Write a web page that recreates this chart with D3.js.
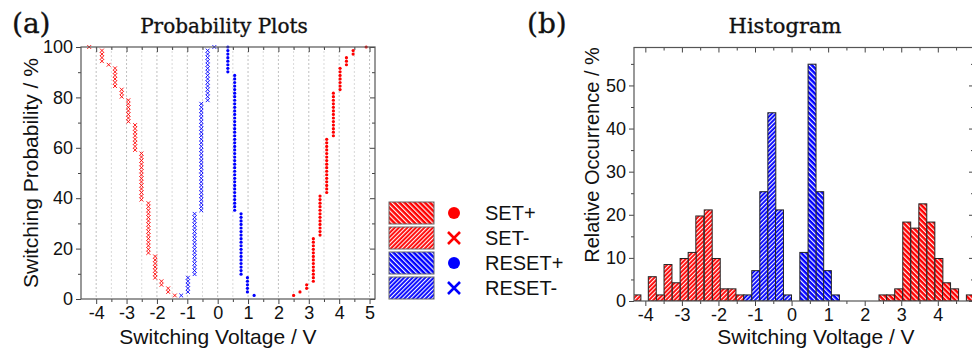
<!DOCTYPE html>
<html>
<head>
<meta charset="utf-8">
<script src="https://cdn.jsdelivr.net/npm/d3@7"></script>
<style>
  body { margin: 0; background: #fff; }
  text { font-family: "Liberation Sans", Arial, sans-serif; fill: #111; }
  .serif { font-family: "DejaVu Serif", "Liberation Serif", serif; stroke: #111; stroke-width: 0.35px; }
</style>
</head>
<body>
<div id="chart"></div>
<script>
// switching voltages (V) and counts, listed in the order the cumulative probability builds up
const setPlusV = [2.50, 2.71, 2.93, 3.15, 3.37, 3.59, 3.81, 4.03, 4.24, 4.46, 4.89];
const setPlusN = [1, 1, 2, 13, 12, 16, 13, 7, 3, 2, 1];
const setMinusV = [-1.41, -1.63, -1.85, -2.06, -2.28, -2.51, -2.72, -2.94, -3.16, -3.38, -3.59, -3.81, -4.23];
const setMinusN = [1, 2, 2, 7, 15, 14, 8, 7, 3, 6, 1, 4, 1];
const resetPlusV = [1.20, 0.98, 0.77, 0.56, 0.335];
const resetPlusN = [1, 5, 18, 39, 8];
const resetMinusV = [-1.20, -0.98, -0.76, -0.54, -0.33, -0.11];
const resetMinusN = [1, 5, 18, 31, 15, 1];
const binWidth = 0.217;

const voltTicksA = [-4, -3, -2, -1, 0, 1, 2, 3, 4, 5];
const voltTicksB = [-4, -3, -2, -1, 0, 1, 2, 3, 4];
const halfTicks = [-4.5, -3.5, -2.5, -1.5, -0.5, 0.5, 1.5, 2.5, 3.5, 4.5];
const probTicks = [0, 20, 40, 60, 80, 100];
const probMinor = [10, 30, 50, 70, 90];
const histTicks = [0, 10, 20, 30, 40, 50];
const histMinor = [5, 15, 25, 35, 45, 55];

const series = [
  { name: "SET+",   v: setPlusV,    n: setPlusN,    color: "#ff0000", marker: "dot",   hatch: "back" },
  { name: "SET-",   v: setMinusV,   n: setMinusN,   color: "#ff0000", marker: "cross", hatch: "fwd" },
  { name: "RESET+", v: resetPlusV,  n: resetPlusN,  color: "#0000ff", marker: "dot",   hatch: "back" },
  { name: "RESET-", v: resetMinusV, n: resetMinusN, color: "#0000ff", marker: "cross", hatch: "fwd" }
];

const W = 972, H = 350;
const svg = d3.select("#chart").append("svg")
  .attr("width", W).attr("height", H);

// hatch patterns
const defs = svg.append("defs");
series.forEach((s, i) => {
  const gap = s.hatch === "back" ? 3.6 : 3.0;
  const p = defs.append("pattern")
    .attr("id", "hatch" + i)
    .attr("patternUnits", "userSpaceOnUse")
    .attr("width", gap).attr("height", gap)
    .attr("patternTransform", "rotate(" + (s.hatch === "back" ? -45 : 45) + ")");
  p.append("rect").attr("width", gap).attr("height", gap).attr("fill", s.color);
  p.append("line").attr("x1", 0.6).attr("x2", 0.6).attr("y1", 0).attr("y2", gap)
    .attr("stroke", "#fff").attr("stroke-width", 1.1);
});

function styleAxis(g) {
  g.select(".domain").remove();
  g.selectAll(".tick line").attr("stroke", "#444").attr("stroke-width", 1);
  g.selectAll(".tick text").style("font-size", "18px").attr("fill", "#111");
}

// ---------------- (a) probability plot ----------------
const A = { left: 81, right: 375, top: 47, bottom: 299 };
const xA = d3.scaleLinear().domain([-4.5, 5.18]).range([A.left, A.right]);
const yA = d3.scaleLinear().domain([0, 100]).range([A.bottom, A.top]);

const gA = svg.append("g");

gA.append("g").selectAll("line")
  .data(voltTicksA.concat(halfTicks).filter(d => xA(d) > A.left + 1 && xA(d) < A.right - 1))
  .join("line")
  .attr("x1", d => xA(d)).attr("x2", d => xA(d))
  .attr("y1", A.top).attr("y2", A.bottom)
  .attr("stroke", d => Number.isInteger(d) ? "#b0b0b0" : "#cfcfcf")
  .attr("stroke-width", 0.8)
  .attr("stroke-dasharray", "2,2");

gA.append("g").attr("transform", `translate(0,${A.bottom})`)
  .call(d3.axisBottom(xA).tickValues(voltTicksA).tickSize(5).tickPadding(2)
    .tickFormat(d => d < 0 ? "-" + Math.abs(d) : d))
  .call(styleAxis);
gA.append("g").attr("transform", `translate(0,${A.bottom})`)
  .call(d3.axisBottom(xA).tickValues(halfTicks.filter(d => d > -4.5)).tickSize(3).tickFormat(""))
  .call(styleAxis);
gA.append("g").attr("transform", `translate(0,${A.top})`)
  .call(d3.axisTop(xA).tickValues(voltTicksA).tickSize(-5).tickFormat(""))
  .call(styleAxis);
gA.append("g").attr("transform", `translate(0,${A.top})`)
  .call(d3.axisTop(xA).tickValues(halfTicks.filter(d => d > -4.5)).tickSize(-3).tickFormat(""))
  .call(styleAxis);
gA.append("g").attr("transform", `translate(${A.left},0)`)
  .call(d3.axisLeft(yA).tickValues(probTicks).tickSize(5).tickPadding(3))
  .call(styleAxis);
gA.append("g").attr("transform", `translate(${A.left},0)`)
  .call(d3.axisLeft(yA).tickValues(probMinor).tickSize(3).tickFormat(""))
  .call(styleAxis);
gA.append("g").attr("transform", `translate(${A.right},0)`)
  .call(d3.axisRight(yA).tickValues(probTicks).tickSize(-5).tickFormat(""))
  .call(styleAxis);
gA.append("g").attr("transform", `translate(${A.right},0)`)
  .call(d3.axisRight(yA).tickValues(probMinor).tickSize(-3).tickFormat(""))
  .call(styleAxis);

// cumulative points: each measurement gets k/N of the probability
series.forEach(s => {
  const total = d3.sum(s.n);
  const pts = [];
  let k = 0;
  s.v.forEach((v, j) => {
    for (let m = 0; m < s.n[j]; m++) {
      k += 1;
      pts.push({ v: v, p: k / total * 100 });
    }
  });
  const g = gA.append("g");
  if (s.marker === "dot") {
    g.selectAll("circle").data(pts).join("circle")
      .attr("cx", d => xA(d.v)).attr("cy", d => yA(d.p))
      .attr("r", 1.6).attr("fill", s.color);
  } else {
    g.selectAll("path").data(pts).join("path")
      .attr("transform", d => `translate(${xA(d.v)},${yA(d.p)})`)
      .attr("d", "M-1.9,-1.9L1.9,1.9M-1.9,1.9L1.9,-1.9")
      .attr("stroke", s.color).attr("stroke-width", 0.9).attr("fill", "none");
  }
});

gA.append("rect")
  .attr("x", A.left).attr("y", A.top)
  .attr("width", A.right - A.left).attr("height", A.bottom - A.top)
  .attr("fill", "none").attr("stroke", "#555").attr("stroke-width", 1.2);

gA.append("text").attr("x", 218).attr("y", 344)
  .attr("text-anchor", "middle").style("font-size", "21px")
  .text("Switching Voltage / V");
gA.append("text")
  .attr("transform", `translate(38,${(A.top + A.bottom) / 2}) rotate(-90)`)
  .attr("text-anchor", "middle").style("font-size", "21px")
  .text("Switching Probability / %");
gA.append("text").attr("class", "serif").attr("x", 224).attr("y", 33)
  .attr("text-anchor", "middle").style("font-size", "20px")
  .text("Probability Plots");
gA.append("text").attr("class", "serif").attr("x", 12).attr("y", 33)
  .style("font-size", "28px").text("(a)");

// ---------------- legend ----------------
const leg = svg.append("g");
series.forEach((s, i) => {
  const y0 = 202 + i * 25;
  leg.append("rect").attr("x", 389).attr("y", y0).attr("width", 45).attr("height", 22)
    .attr("fill", `url(#hatch${i})`).attr("stroke", "#666").attr("stroke-width", 1);
  if (s.marker === "dot") {
    leg.append("circle").attr("cx", 454).attr("cy", y0 + 11).attr("r", 6).attr("fill", s.color);
  } else {
    leg.append("path").attr("transform", `translate(454,${y0 + 11})`)
      .attr("d", "M-6,-6L6,6M-6,6L6,-6")
      .attr("stroke", s.color).attr("stroke-width", 2.6).attr("fill", "none");
  }
  leg.append("text").attr("x", 485).attr("y", y0 + 18).style("font-size", "20px").text(s.name);
});

// ---------------- (b) histogram ----------------
const B = { left: 634, right: 974, top: 47.5, bottom: 301 };
const xB = d3.scaleLinear().domain([-4.31, 4.99]).range([B.left, B.right]);
const yB = d3.scaleLinear().domain([0, 58.8]).range([B.bottom, B.top]);

const gB = svg.append("g");
defs.append("clipPath").attr("id", "clipB").append("rect")
  .attr("x", B.left).attr("y", B.top).attr("width", B.right - B.left).attr("height", B.bottom - B.top);

gB.append("g").attr("transform", `translate(0,${B.bottom})`)
  .call(d3.axisBottom(xB).tickValues(voltTicksB).tickSize(5).tickPadding(2)
    .tickFormat(d => d < 0 ? "-" + Math.abs(d) : d))
  .call(styleAxis);
gB.append("g").attr("transform", `translate(0,${B.bottom})`)
  .call(d3.axisBottom(xB).tickValues(halfTicks.filter(d => d > -4.31)).tickSize(3).tickFormat(""))
  .call(styleAxis);
gB.append("g").attr("transform", `translate(0,${B.top})`)
  .call(d3.axisTop(xB).tickValues(voltTicksB).tickSize(-5).tickFormat(""))
  .call(styleAxis);
gB.append("g").attr("transform", `translate(0,${B.top})`)
  .call(d3.axisTop(xB).tickValues(halfTicks.filter(d => d > -4.31)).tickSize(-3).tickFormat(""))
  .call(styleAxis);
gB.append("g").attr("transform", `translate(${B.left},0)`)
  .call(d3.axisLeft(yB).tickValues(histTicks).tickSize(5).tickPadding(3))
  .call(styleAxis);
gB.append("g").attr("transform", `translate(${B.left},0)`)
  .call(d3.axisLeft(yB).tickValues(histMinor).tickSize(3).tickFormat(""))
  .call(styleAxis);
gB.append("g").attr("transform", `translate(${B.right},0)`)
  .call(d3.axisRight(yB).tickValues(histTicks).tickSize(-5).tickFormat(""))
  .call(styleAxis);
gB.append("g").attr("transform", `translate(${B.right},0)`)
  .call(d3.axisRight(yB).tickValues(histMinor).tickSize(-3).tickFormat(""))
  .call(styleAxis);

const bars = gB.append("g").attr("clip-path", "url(#clipB)");
series.forEach((s, i) => {
  const total = d3.sum(s.n);
  const rows = s.v.map((v, j) => ({ v: v, pct: s.n[j] / total * 100 }));
  bars.append("g").selectAll("rect").data(rows).join("rect")
    .attr("x", d => xB(d.v - binWidth / 2))
    .attr("width", d => xB(d.v + binWidth / 2) - xB(d.v - binWidth / 2))
    .attr("y", d => yB(d.pct))
    .attr("height", d => yB(0) - yB(d.pct))
    .attr("fill", `url(#hatch${i})`)
    .attr("stroke", "#222").attr("stroke-width", 1);
});

gB.append("rect")
  .attr("x", B.left).attr("y", B.top)
  .attr("width", B.right - B.left).attr("height", B.bottom - B.top)
  .attr("fill", "none").attr("stroke", "#555").attr("stroke-width", 1.2);

gB.append("text").attr("x", 816).attr("y", 344)
  .attr("text-anchor", "middle").style("font-size", "21px")
  .text("Switching Voltage / V");
gB.append("text")
  .attr("transform", `translate(599,155) rotate(-90)`)
  .attr("text-anchor", "middle").style("font-size", "20px")
  .text("Relative Occurrence / %");
gB.append("text").attr("class", "serif").attr("x", 785).attr("y", 33)
  .attr("text-anchor", "middle").style("font-size", "21px")
  .text("Histogram");
gB.append("text").attr("class", "serif").attr("x", 527).attr("y", 33)
  .style("font-size", "28px").text("(b)");
</script>
</body>
</html>
